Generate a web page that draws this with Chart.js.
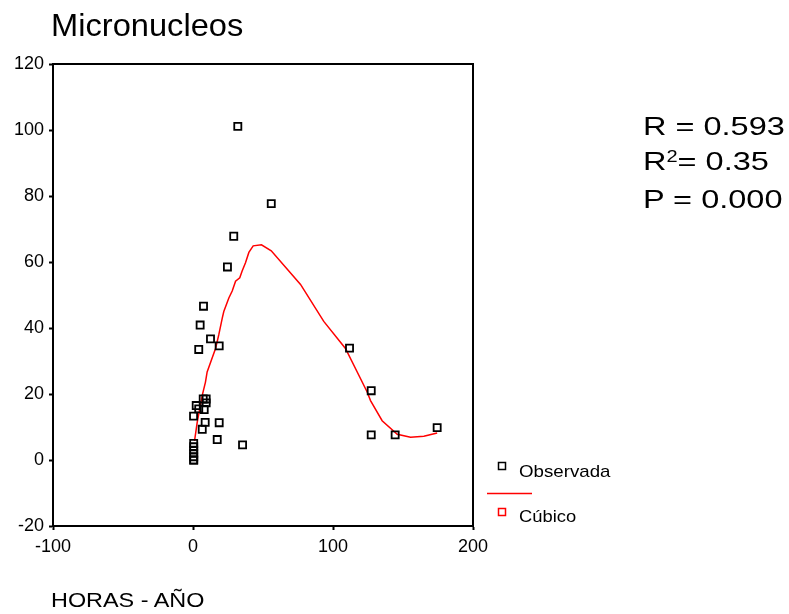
<!DOCTYPE html>
<html>
<head>
<meta charset="utf-8">
<title>Micronucleos</title>
<script src="https://cdn.jsdelivr.net/npm/chart.js@4"></script>
<style>
  body { margin: 0; background: #fff; font-family: Arial, "Liberation Sans", sans-serif; color: #000; }
  #wrap { position: relative; width: 789px; height: 614px; }
  .lbl { position: absolute; white-space: nowrap; line-height: 1; transform-origin: 0 0; }
  #title { left: 51px; top: 9px; font-size: 32px; transform: scaleX(1.02); }
  #stats { left: 643px; top: 109px; font-size: 26px; line-height: 34.5px; transform: scaleX(1.25); }
  #stats .sup { font-size: 16px; position: relative; top: -8px; }
  #xtitle { left: 51px; top: 590px; font-size: 20px; transform: scaleX(1.17); }
  #leg1 { left: 519px; top: 463px; font-size: 17px; transform: scaleX(1.1); }
  #leg2 { left: 519px; top: 508px; font-size: 17px; transform: scaleX(1.08); }
</style>
</head>
<body>
<div id="wrap">
  <canvas id="chart"></canvas>
  <div class="lbl" id="title">Micronucleos</div>
  <div class="lbl" id="stats">R = 0.593<br>R<span class="sup">2</span>= 0.35<br>P = 0.000</div>
  <div class="lbl" id="xtitle">HORAS - AÑO</div>
  <div class="lbl" id="leg1">Observada</div>
  <div class="lbl" id="leg2">Cúbico</div>
</div>
<script>
const obsX = [32.0, 55.9, 29.1, 24.6, 7.5, 5.1, 12.5, 18.7, 4.1, 111.8, 127.3, 127.3, 144.4, 174.4,
  35.4, 17.3, 18.7, 8.7, 6.6, 7.3, 9.4, 9.4, 2.3, 4.1, 8.0, 0.4,
  0.5, 0.5, 0.5, 0.5, 0.5, 0.5, 0.5];
const obsY = [101.1, 77.7, 67.8, 58.5, 46.6, 40.9, 36.7, 34.6, 33.5, 33.9, 21.0, 7.6, 7.6, 9.8,
  4.6, 6.2, 11.3, 11.4, 9.3, 18.5, 18.5, 17.3, 16.5, 15.5, 15.3, 13.3,
  0, 0, 1, 2, 3, 4, 5];

// cubic fit line
const fitX = [1.1, 3.0, 6.6, 8.9, 10.1, 16.1, 18.4, 20.9, 22.0, 25.6, 28.0, 30.4, 33.4, 35.1, 37.5,
  39.9, 43.0, 48.9, 55.9, 76.8, 93.4, 108.9, 124.4, 126.8, 135.1, 145.9, 155.4, 164.9, 174.4];
const fitY = [5.8, 11.4, 19.6, 23.6, 26.7, 33.8, 37.9, 43.0, 45.0, 49.1, 51.2, 54.2, 55.2, 57.3, 59.8,
  62.9, 64.9, 65.2, 63.4, 53.2, 42.0, 33.8, 20.6, 18.0, 11.9, 7.8, 6.9, 7.2, 8.2];

const xTicks = [-100, 0, 100, 200];
const yTicks = [-20, 0, 20, 40, 60, 80, 100, 120];

const tickFont = { family: 'Arial, "Liberation Sans", sans-serif', size: 18 };

const frame = {
  id: 'frame',
  afterDraw(chart) {
    const { ctx, chartArea: a } = chart;
    ctx.save();
    ctx.strokeStyle = '#000';
    ctx.lineWidth = 2;
    ctx.strokeRect(a.left, a.top, a.right - a.left, a.bottom - a.top);
    // legend markers
    ctx.lineWidth = 1.5;
    ctx.strokeRect(498.5, 462.5, 7, 7);
    ctx.strokeStyle = '#ff0000';
    ctx.strokeRect(498.5, 508.5, 7, 7);
    ctx.beginPath();
    ctx.moveTo(487, 493.5);
    ctx.lineTo(532, 493.5);
    ctx.stroke();
    ctx.restore();
  }
};

new Chart(document.getElementById('chart'), {
  type: 'scatter',
  data: {
    datasets: [
      {
        label: 'Cúbico',
        data: fitX.map((x, i) => ({ x, y: fitY[i] })),
        showLine: true,
        borderColor: '#ff0000',
        borderWidth: 1.5,
        pointRadius: 0,
        tension: 0,
        order: 2
      },
      {
        label: 'Observada',
        data: obsX.map((x, i) => ({ x, y: obsY[i] })),
        pointStyle: 'rect',
        pointRadius: 5,
        borderColor: '#000',
        borderWidth: 1.8,
        backgroundColor: 'rgba(0,0,0,0)',
        order: 1
      }
    ]
  },
  options: {
    responsive: true,
    maintainAspectRatio: false,
    animation: false,
    layout: { padding: { left: 0, top: 64, right: 316, bottom: 48 } },
    plugins: { legend: { display: false }, tooltip: { enabled: false } },
    scales: {
      x: {
        type: 'linear',
        min: -100, max: 200,
        afterBuildTicks: s => { s.ticks = xTicks.map(v => ({ value: v })); },
        afterFit: s => { s.height = 40; },
        grid: { drawOnChartArea: false, tickLength: 4, tickWidth: 2, tickColor: '#000' },
        border: { display: true, color: '#000', width: 2 },
        ticks: { color: '#000', font: tickFont, padding: 6, maxRotation: 0 }
      },
      y: {
        type: 'linear',
        min: -20, max: 120,
        afterBuildTicks: s => { s.ticks = yTicks.map(v => ({ value: v })); },
        afterFit: s => { s.width = 53; },
        grid: { drawOnChartArea: false, tickLength: 4, tickWidth: 2, tickColor: '#000' },
        border: { display: true, color: '#000', width: 2 },
        ticks: { color: '#000', font: tickFont, padding: 5 }
      }
    }
  },
  plugins: [frame]
});
</script>
</body>
</html>
